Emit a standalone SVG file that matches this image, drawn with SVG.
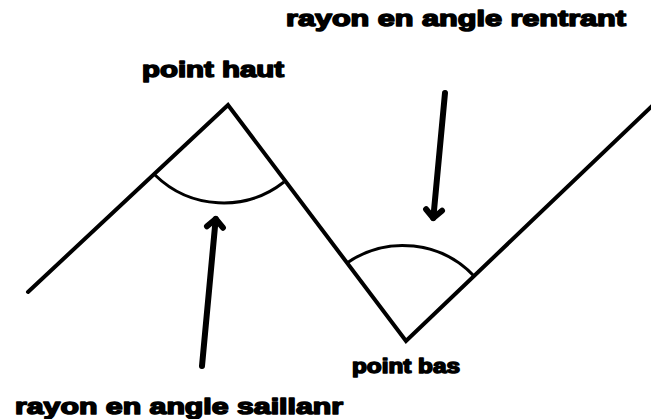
<svg xmlns="http://www.w3.org/2000/svg" width="651" height="419" viewBox="0 0 651 419">
  <style>
    .line { fill: none; stroke: #000; stroke-width: 4; stroke-linecap: round; stroke-linejoin: miter; }
    .arc { fill: none; stroke: #000; stroke-width: 3; }
    .arrow { fill: none; stroke: #000; stroke-width: 6; stroke-linecap: round; }
    .lbl { font-family: "Liberation Sans", Arial, sans-serif; font-weight: 700; fill: #000; stroke: #000; stroke-width: 1.5; stroke-linejoin: round; }
  </style>
  <defs>
    <marker id="head" markerUnits="userSpaceOnUse" markerWidth="30" markerHeight="30" viewBox="-15 -15 30 30" refX="0" refY="0" orient="auto">
      <path d="M -8 -8 L 0 0 L -8 8" fill="none" stroke="#000" stroke-width="6" stroke-linecap="round" stroke-linejoin="round"/>
    </marker>
  </defs>
  <rect width="651" height="419" fill="#fff"/>
  <g id="zigzag">
    <polyline class="line" points="28,292 228,105 406,341 653,105"/>
  </g>
  <g id="angle-saillant">
    <path class="arc" d="M 155 175 A 98 98 0 0 0 284 182"/>
  </g>
  <g id="angle-rentrant">
    <path class="arc" d="M 347 263 A 98 98 0 0 1 475 277"/>
  </g>
  <g id="connectors">
    <line class="arrow" x1="445" y1="93" x2="433.3" y2="218" marker-end="url(#head)"/>
    <line class="arrow" x1="202" y1="366" x2="215.7" y2="219" marker-end="url(#head)"/>
  </g>
  <g id="label-rentrant">
    <text class="lbl" x="286" y="26" font-size="22" textLength="340" lengthAdjust="spacingAndGlyphs">rayon en angle rentrant</text>
  </g>
  <g id="label-point-haut">
    <text class="lbl" x="142" y="77" font-size="22" textLength="142" lengthAdjust="spacingAndGlyphs">point haut</text>
  </g>
  <g id="label-point-bas">
    <text class="lbl" x="352" y="373" font-size="20" textLength="108" lengthAdjust="spacingAndGlyphs">point bas</text>
  </g>
  <g id="label-saillant">
    <text class="lbl" x="15" y="414" font-size="22" textLength="328" lengthAdjust="spacingAndGlyphs">rayon en angle saillanr</text>
  </g>
</svg>
